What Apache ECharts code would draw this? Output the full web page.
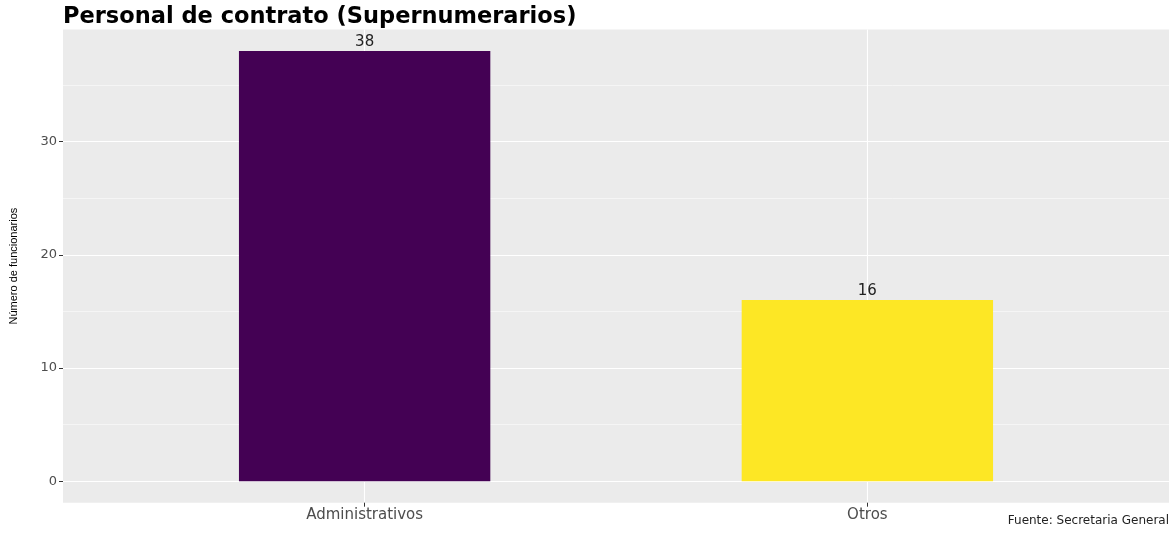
<!DOCTYPE html>
<html>
<head>
<meta charset="utf-8">
<script src="https://cdn.jsdelivr.net/npm/echarts@6/dist/echarts.min.js"></script>
<style>html,body{margin:0;padding:0;background:#fff;}#c{width:1176px;height:535px;}</style>
</head>
<body>
<div id="c"></div>
<script>
const categories = ['Administrativos', 'Otros'];
const values = [38, 16];
const barColors = ['#440154', '#FDE725'];
const yTicks = [0, 10, 20, 30];
const yMinorTicks = [5, 15, 25, 35];
const titleText = 'Personal de contrato (Supernumerarios)';
const yAxisTitle = 'Número de funcionarios';
const captionText = 'Fuente: Secretaria General';

const chart = echarts.init(document.getElementById('c'));
const gridLeft = 63, gridRight = 7, gridTop = 29.5, gridBottom = 32.3;
const gridW = 1176 - gridLeft - gridRight;
const xMin = 0.4, xMax = categories.length + 0.6;
const barWidthPx = gridW * 0.5 / (xMax - xMin);
const catPos = categories.map((c, i) => i + 1);

chart.setOption({
  animation: false,
  backgroundColor: '#ffffff',
  title: [
    { text: titleText, left: 58, top: 1, textStyle: { fontFamily: 'DejaVu Sans', fontWeight: 'bold', fontSize: 22.5, color: '#000' } },
    { text: captionText, right: 2, top: 510, textStyle: { fontFamily: 'DejaVu Sans', fontWeight: 'normal', fontSize: 12, color: '#222' } }
  ],
  grid: { left: gridLeft, right: gridRight, top: gridTop, bottom: gridBottom, show: true, backgroundColor: '#EBEBEB', borderWidth: 0 },
  xAxis: {
    type: 'value', min: xMin, max: xMax, position: 'bottom',
    axisLine: { show: false, onZero: false },
    axisTick: { show: true, length: 4, lineStyle: { color: '#333', width: 1 }, customValues: catPos },
    axisLabel: { customValues: catPos, formatter: v => categories[Math.round(v) - 1] || '', color: '#4D4D4D', fontFamily: 'DejaVu Sans', fontSize: 15, margin: 5 },
    splitLine: { show: true, lineStyle: { color: '#ffffff', width: 1.1 } }
  },
  yAxis: {
    type: 'value', min: -1.9, max: 39.9,
    name: yAxisTitle, nameLocation: 'middle', nameGap: 44, nameRotate: 90,
    nameTextStyle: { fontFamily: 'Liberation Sans', fontSize: 11, color: '#000' },
    axisLine: { show: false },
    axisTick: { show: true, length: 4, lineStyle: { color: '#333', width: 1 }, customValues: yTicks },
    axisLabel: { customValues: yTicks, color: '#4D4D4D', fontFamily: 'DejaVu Sans', fontSize: 13, margin: 6 },
    splitLine: { show: true, lineStyle: { color: '#ffffff', width: 1.1 } }
  },
  series: [{
    type: 'bar',
    barWidth: barWidthPx,
    data: values.map((v, i) => ({ value: [catPos[i], v], itemStyle: { color: barColors[i] } })),
    label: { show: true, position: 'top', distance: 1, formatter: p => p.value[1], fontFamily: 'DejaVu Sans', fontSize: 15, color: '#222' },
    markLine: {
      silent: true, symbol: 'none', label: { show: false }, z: 0,
      lineStyle: { color: '#ffffff', width: 0.5, type: 'solid' },
      data: yMinorTicks.map(v => ({ yAxis: v }))
    },
    z: 3
  }]
});
</script>
</body>
</html>
